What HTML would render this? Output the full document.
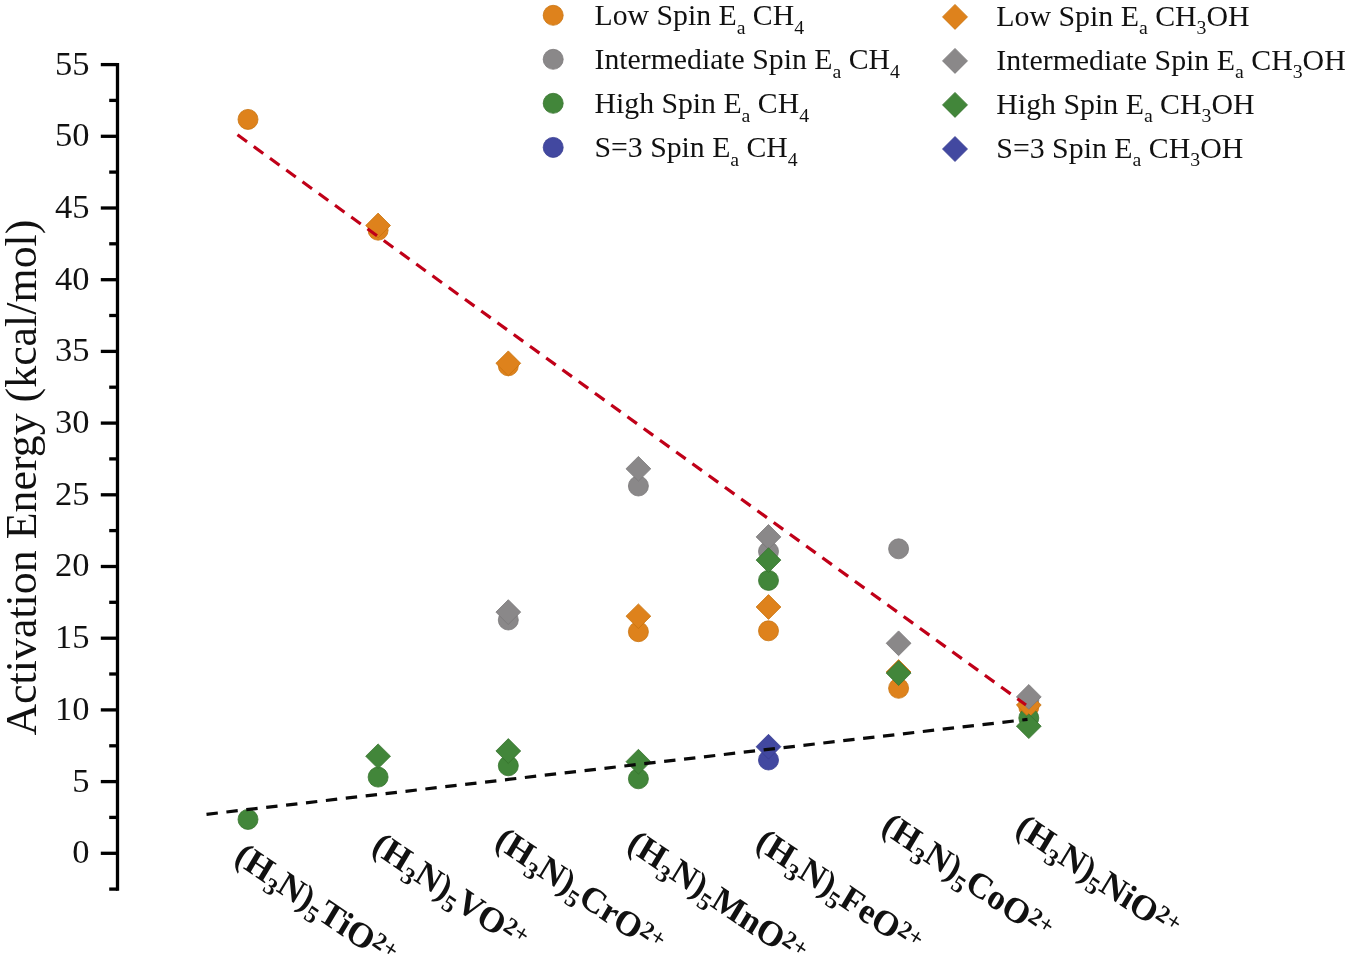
<!DOCTYPE html>
<html lang="en"><head><meta charset="utf-8"><title>Activation Energy chart</title>
<style>html,body{margin:0;padding:0;background:#fff}body{width:1350px;height:959px;overflow:hidden}</style>
</head><body>
<svg width="1350" height="959" viewBox="0 0 1350 959" style="display:block;font-family:'Liberation Serif', 'DejaVu Serif', serif">
<rect width="1350" height="959" fill="#ffffff"/>
<g stroke="#000" stroke-width="3.3" fill="none" stroke-linecap="butt">
<path d="M117.5 62.9V890.8"/>
<path d="M100.8 64.6H117.5"/>
<path d="M109.2 100.4H117.5"/>
<path d="M100.8 136.3H117.5"/>
<path d="M109.2 172.1H117.5"/>
<path d="M100.8 208.0H117.5"/>
<path d="M109.2 243.8H117.5"/>
<path d="M100.8 279.7H117.5"/>
<path d="M109.2 315.5H117.5"/>
<path d="M100.8 351.4H117.5"/>
<path d="M109.2 387.2H117.5"/>
<path d="M100.8 423.1H117.5"/>
<path d="M109.2 458.9H117.5"/>
<path d="M100.8 494.8H117.5"/>
<path d="M109.2 530.6H117.5"/>
<path d="M100.8 566.5H117.5"/>
<path d="M109.2 602.3H117.5"/>
<path d="M100.8 638.2H117.5"/>
<path d="M109.2 674.0H117.5"/>
<path d="M100.8 709.9H117.5"/>
<path d="M109.2 745.8H117.5"/>
<path d="M100.8 781.6H117.5"/>
<path d="M109.2 817.4H117.5"/>
<path d="M100.8 853.3H117.5"/>
<path d="M109.2 889.1H117.5"/>
</g>
<g font-size="34.5" text-anchor="end" fill="#111">
<text x="89.6" y="863.2">0</text>
<text x="89.6" y="791.5">5</text>
<text x="89.6" y="719.8">10</text>
<text x="89.6" y="648.1">15</text>
<text x="89.6" y="576.4">20</text>
<text x="89.6" y="504.7">25</text>
<text x="89.6" y="433.0">30</text>
<text x="89.6" y="361.3">35</text>
<text x="89.6" y="289.6">40</text>
<text x="89.6" y="217.9">45</text>
<text x="89.6" y="146.2">50</text>
<text x="89.6" y="74.5">55</text>
</g>
<text transform="translate(35.6 477.6) rotate(-90)" font-size="43.9" text-anchor="middle" fill="#111">Activation Energy (kcal/mol)</text>
<g>
<circle cx="248.0" cy="119.4" r="10" fill="#DE821C" stroke="#C9740F" stroke-width="0.8"/>
<circle cx="378.1" cy="230.2" r="10" fill="#DE821C" stroke="#C9740F" stroke-width="0.8"/>
<circle cx="508.3" cy="365.8" r="10" fill="#DE821C" stroke="#C9740F" stroke-width="0.8"/>
<circle cx="638.4" cy="631.7" r="10" fill="#DE821C" stroke="#C9740F" stroke-width="0.8"/>
<circle cx="768.5" cy="630.8" r="10" fill="#DE821C" stroke="#C9740F" stroke-width="0.8"/>
<circle cx="898.6" cy="688.3" r="10" fill="#DE821C" stroke="#C9740F" stroke-width="0.8"/>
<circle cx="1028.8" cy="707.0" r="10" fill="#DE821C" stroke="#C9740F" stroke-width="0.8"/>
<circle cx="508.3" cy="620.0" r="10" fill="#8A8889" stroke="#7B797A" stroke-width="0.8"/>
<circle cx="638.4" cy="486.0" r="10" fill="#8A8889" stroke="#7B797A" stroke-width="0.8"/>
<circle cx="768.5" cy="551.5" r="10" fill="#8A8889" stroke="#7B797A" stroke-width="0.8"/>
<circle cx="898.6" cy="548.8" r="10" fill="#8A8889" stroke="#7B797A" stroke-width="0.8"/>
<circle cx="1028.8" cy="700.0" r="10" fill="#8A8889" stroke="#7B797A" stroke-width="0.8"/>
<circle cx="248.0" cy="819.4" r="10" fill="#42863A" stroke="#37732F" stroke-width="0.8"/>
<circle cx="378.1" cy="777.1" r="10" fill="#42863A" stroke="#37732F" stroke-width="0.8"/>
<circle cx="508.3" cy="765.8" r="10" fill="#42863A" stroke="#37732F" stroke-width="0.8"/>
<circle cx="638.4" cy="778.8" r="10" fill="#42863A" stroke="#37732F" stroke-width="0.8"/>
<circle cx="768.5" cy="580.4" r="10" fill="#42863A" stroke="#37732F" stroke-width="0.8"/>
<circle cx="1028.8" cy="718.0" r="10" fill="#42863A" stroke="#37732F" stroke-width="0.8"/>
<circle cx="768.5" cy="760.0" r="10" fill="#4248A0" stroke="#383E92" stroke-width="0.8"/>
<path d="M378.1 213.1L390.5 225.5L378.1 237.9L365.7 225.5Z" fill="#DE821C" stroke="#C9740F" stroke-width="0.8"/>
<path d="M508.3 350.9L520.7 363.3L508.3 375.7L495.9 363.3Z" fill="#DE821C" stroke="#C9740F" stroke-width="0.8"/>
<path d="M638.4 603.9L650.8 616.2L638.4 628.6L626.0 616.2Z" fill="#DE821C" stroke="#C9740F" stroke-width="0.8"/>
<path d="M768.5 594.6L780.9 607.0L768.5 619.4L756.1 607.0Z" fill="#DE821C" stroke="#C9740F" stroke-width="0.8"/>
<path d="M898.6 659.6L911.0 672.0L898.6 684.4L886.2 672.0Z" fill="#DE821C" stroke="#C9740F" stroke-width="0.8"/>
<path d="M1028.8 692.6L1041.2 705.0L1028.8 717.4L1016.4 705.0Z" fill="#DE821C" stroke="#C9740F" stroke-width="0.8"/>
<path d="M508.3 599.7L520.7 612.1L508.3 624.5L495.9 612.1Z" fill="#8A8889" stroke="#7B797A" stroke-width="0.8"/>
<path d="M638.4 456.4L650.8 468.8L638.4 481.1L626.0 468.8Z" fill="#8A8889" stroke="#7B797A" stroke-width="0.8"/>
<path d="M768.5 524.5L780.9 536.9L768.5 549.3L756.1 536.9Z" fill="#8A8889" stroke="#7B797A" stroke-width="0.8"/>
<path d="M898.6 630.9L911.0 643.3L898.6 655.7L886.2 643.3Z" fill="#8A8889" stroke="#7B797A" stroke-width="0.8"/>
<path d="M1028.8 684.5L1041.2 696.9L1028.8 709.3L1016.4 696.9Z" fill="#8A8889" stroke="#7B797A" stroke-width="0.8"/>
<path d="M378.1 743.9L390.5 756.2L378.1 768.6L365.7 756.2Z" fill="#42863A" stroke="#37732F" stroke-width="0.8"/>
<path d="M508.3 738.6L520.7 751.0L508.3 763.4L495.9 751.0Z" fill="#42863A" stroke="#37732F" stroke-width="0.8"/>
<path d="M638.4 749.3L650.8 761.7L638.4 774.1L626.0 761.7Z" fill="#42863A" stroke="#37732F" stroke-width="0.8"/>
<path d="M768.5 547.7L780.9 560.1L768.5 572.5L756.1 560.1Z" fill="#42863A" stroke="#37732F" stroke-width="0.8"/>
<path d="M898.6 660.7L911.0 673.1L898.6 685.5L886.2 673.1Z" fill="#42863A" stroke="#37732F" stroke-width="0.8"/>
<path d="M1028.8 713.9L1041.2 726.2L1028.8 738.6L1016.4 726.2Z" fill="#42863A" stroke="#37732F" stroke-width="0.8"/>
<path d="M768.5 734.3L780.9 746.7L768.5 759.1L756.1 746.7Z" fill="#4248A0" stroke="#383E92" stroke-width="0.8"/>
</g>
<path d="M237.5 134.8L1026 705" stroke="#C00018" stroke-width="3.2" stroke-dasharray="11.75 8.3" fill="none"/>
<path d="M206.5 814.3L1027.5 719.4" stroke="#0a0a0a" stroke-width="3.2" stroke-dasharray="11.4 8.63" fill="none"/>
<g font-size="29.75" fill="#111">
<circle cx="553.2" cy="15.3" r="10" fill="#DE821C" stroke="#C9740F" stroke-width="0.8"/>
<text x="594.5" y="24.8">Low Spin E<tspan font-size="19.8" dy="9">a</tspan><tspan dy="-9"> CH</tspan><tspan font-size="19.8" dy="9">4</tspan></text>
<path d="M955.0 4.4L967.5 16.9L955.0 29.4L942.5 16.9Z" fill="#DE821C" stroke="#C9740F" stroke-width="0.8"/>
<text x="996.3" y="26.0" font-size="29.85">Low Spin E<tspan font-size="19.8" dy="8.2">a</tspan><tspan dy="-8.2"> CH</tspan><tspan font-size="19.8" dy="8.2">3</tspan><tspan dy="-8.2">OH</tspan></text>
<circle cx="553.2" cy="59.3" r="10" fill="#8A8889" stroke="#7B797A" stroke-width="0.8"/>
<text x="594.5" y="68.8">Intermediate Spin E<tspan font-size="19.8" dy="9">a</tspan><tspan dy="-9"> CH</tspan><tspan font-size="19.8" dy="9">4</tspan></text>
<path d="M955.0 48.4L967.5 60.9L955.0 73.4L942.5 60.9Z" fill="#8A8889" stroke="#7B797A" stroke-width="0.8"/>
<text x="996.3" y="70.0" font-size="29.85">Intermediate Spin E<tspan font-size="19.8" dy="8.2">a</tspan><tspan dy="-8.2"> CH</tspan><tspan font-size="19.8" dy="8.2">3</tspan><tspan dy="-8.2">OH</tspan></text>
<circle cx="553.2" cy="103.3" r="10" fill="#42863A" stroke="#37732F" stroke-width="0.8"/>
<text x="594.5" y="112.8">High Spin E<tspan font-size="19.8" dy="9">a</tspan><tspan dy="-9"> CH</tspan><tspan font-size="19.8" dy="9">4</tspan></text>
<path d="M955.0 92.4L967.5 104.9L955.0 117.4L942.5 104.9Z" fill="#42863A" stroke="#37732F" stroke-width="0.8"/>
<text x="996.3" y="114.0" font-size="29.85">High Spin E<tspan font-size="19.8" dy="8.2">a</tspan><tspan dy="-8.2"> CH</tspan><tspan font-size="19.8" dy="8.2">3</tspan><tspan dy="-8.2">OH</tspan></text>
<circle cx="553.2" cy="147.4" r="10" fill="#4248A0" stroke="#383E92" stroke-width="0.8"/>
<text x="594.5" y="156.9">S=3 Spin E<tspan font-size="19.8" dy="9">a</tspan><tspan dy="-9"> CH</tspan><tspan font-size="19.8" dy="9">4</tspan></text>
<path d="M955.0 136.5L967.5 149.0L955.0 161.5L942.5 149.0Z" fill="#4248A0" stroke="#383E92" stroke-width="0.8"/>
<text x="996.3" y="158.1" font-size="29.85">S=3 Spin E<tspan font-size="19.8" dy="8.2">a</tspan><tspan dy="-8.2"> CH</tspan><tspan font-size="19.8" dy="8.2">3</tspan><tspan dy="-8.2">OH</tspan></text>
</g>
<g font-size="35" font-weight="bold" fill="#111">
<text transform="matrix(0.8385 0.5720 -0.5150 0.8572 232.7 861.3)">(H<tspan font-size="24" dy="7.6">3</tspan><tspan dy="-7.6">N)</tspan><tspan font-size="24" dy="7.6">5</tspan><tspan dy="-7.6">TiO</tspan><tspan font-size="24" dy="-9">2+</tspan></text>
<text transform="matrix(0.8385 0.5720 -0.5150 0.8572 370.2 850.7)">(H<tspan font-size="24" dy="7.6">3</tspan><tspan dy="-7.6">N)</tspan><tspan font-size="24" dy="7.6">5</tspan><tspan dy="-7.6">VO</tspan><tspan font-size="24" dy="-9">2+</tspan></text>
<text transform="matrix(0.8385 0.5720 -0.5150 0.8572 493.2 845.4)">(H<tspan font-size="24" dy="7.6">3</tspan><tspan dy="-7.6">N)</tspan><tspan font-size="24" dy="7.6">5</tspan><tspan dy="-7.6">CrO</tspan><tspan font-size="24" dy="-9">2+</tspan></text>
<text transform="matrix(0.8385 0.5720 -0.5150 0.8572 625.5 848.4)">(H<tspan font-size="24" dy="7.6">3</tspan><tspan dy="-7.6">N)</tspan><tspan font-size="24" dy="7.6">5</tspan><tspan dy="-7.6">MnO</tspan><tspan font-size="24" dy="-9">2+</tspan></text>
<text transform="matrix(0.8385 0.5720 -0.5150 0.8572 754.1 847.1)">(H<tspan font-size="24" dy="7.6">3</tspan><tspan dy="-7.6">N)</tspan><tspan font-size="24" dy="7.6">5</tspan><tspan dy="-7.6">FeO</tspan><tspan font-size="24" dy="-9">2+</tspan></text>
<text transform="matrix(0.8385 0.5720 -0.5150 0.8572 879.7 830.9)">(H<tspan font-size="24" dy="7.6">3</tspan><tspan dy="-7.6">N)</tspan><tspan font-size="24" dy="7.6">5</tspan><tspan dy="-7.6">CoO</tspan><tspan font-size="24" dy="-9">2+</tspan></text>
<text transform="matrix(0.8385 0.5720 -0.5150 0.8572 1013.8 832.6)">(H<tspan font-size="24" dy="7.6">3</tspan><tspan dy="-7.6">N)</tspan><tspan font-size="24" dy="7.6">5</tspan><tspan dy="-7.6">NiO</tspan><tspan font-size="24" dy="-9">2+</tspan></text>
</g>
</svg>
</body></html>
